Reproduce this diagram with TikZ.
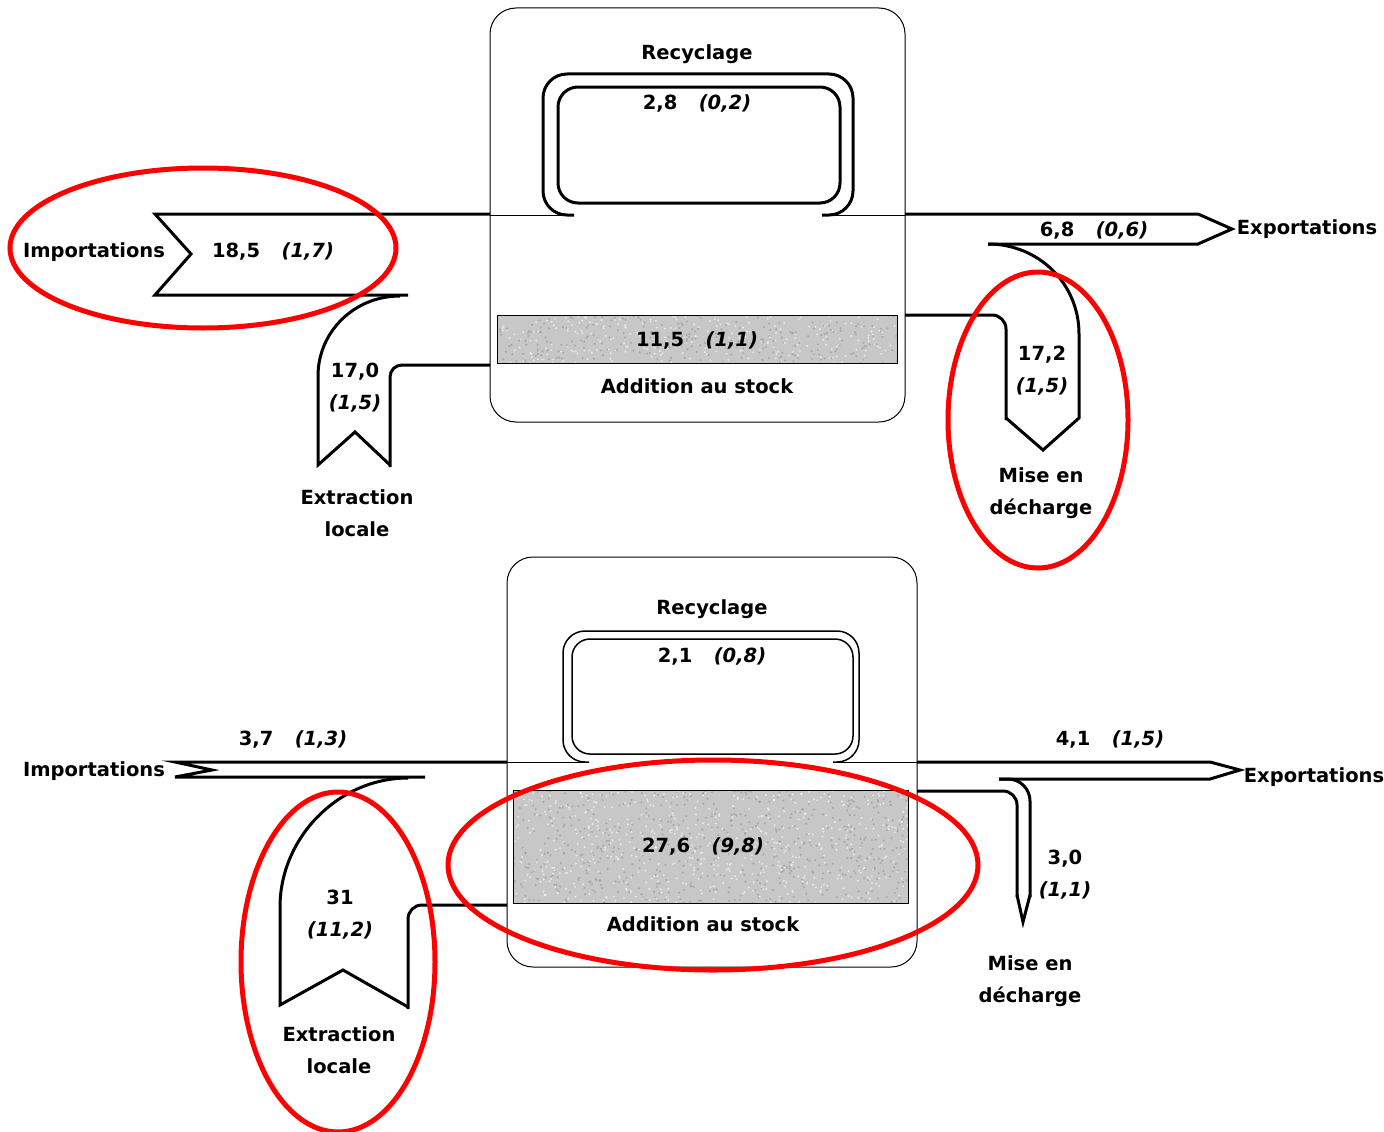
\documentclass[tikz,border=0pt]{standalone}
\usepackage{fontspec}
\setmainfont{DejaVu Sans}
\usepackage{tikz}
\usetikzlibrary{arrows.meta, positioning, calc}
\newcommand{\flowval}[2]{#1\hspace{1.1em}\textit{(#2)}}

\begin{document}
\begin{tikzpicture}[x=1pt, y=-1pt,
    unitbox/.style={line width=1pt, rounded corners=26pt},
    flowline/.style={line width=3pt, line join=miter},
    recyc/.style={line width=3pt, rounded corners=24pt},
    recycthin/.style={line width=1.5pt, rounded corners=22pt},
    speck/.style={fill=black!45, opacity=0.5},
    glint/.style={fill=white, opacity=0.6},
    txt/.style={font=\bfseries\fontsize{19.5}{32}\selectfont, align=center, inner sep=0pt},
    hl/.style={draw=red, line width=5pt}
  ]
  \useasboundingbox (0,0) rectangle (1384,1132);
  \pgfmathsetseed{7}

  % upper diagram
  \draw[unitbox] (490,8) rectangle (905,422);
  \fill[black!22] (497,315) rectangle (897,363);
  \begin{scope}
    \clip (497,315) rectangle (897,363);
    \foreach \k in {1,...,260} {
      \fill[speck] ({697+200*rand},{339+24*rand}) circle (1.2);
      \fill[glint] ({697+200*rand},{339+24*rand}) circle (1.1);
    }
  \end{scope}
  \draw[line width=1pt] (497,315) rectangle (897,363);
  \draw[line width=1pt] (490,215) -- (572,215) (824,215) -- (905,215);
  \draw[recyc] (574,215) -- (543,215) -- (543,74) -- (853,74) -- (853,215) -- (822,215);
  \draw[recyc, rounded corners=20pt] (558,87) rectangle (840,203);

  \draw[flowline] (490,214) -- (155,214) -- (191,254) -- (155,295) -- (408,295);
  \draw[flowline] (400,296) .. controls (354,296) and (318,332) .. (318,376) -- (318,465) -- (355,432) -- (390,465);
  \draw[flowline, rounded corners=12pt] (390,467) -- (390,365) -- (490,365);
  \draw[flowline] (905,214) -- (1198,214) -- (1232,229) -- (1198,244) -- (988,244);
  \draw[flowline] (988,244) .. controls (1038,244) and (1079,283) .. (1079,334) -- (1079,418) -- (1043,450) -- (1006,418);
  \draw[flowline, rounded corners=14pt] (1006,420) -- (1006,315) -- (905,315);

  \node[txt] (recycA) at (697,54) {Recyclage};
  \node[txt] (recycAval) at (697,103) {\flowval{2,8}{0,2}};
  \node[txt] (stockAval) at (697,340) {\flowval{11,5}{1,1}};
  \node[txt] (stockA) at (697,386) {Addition au stock};
  \node[txt] (importA) at (94,252) {Importations};
  \node[txt] (importAval) at (273,251) {\flowval{18,5}{1,7}};
  \node[txt] (extractAval) at (355,388) {17,0\\\textit{(1,5)}};
  \node[txt] (extractA) at (357,513) {Extraction\\locale};
  \node[txt] (exportA) at (1307,229) {Exportations};
  \node[txt] (exportAval) at (1094,230) {\flowval{6,8}{0,6}};
  \node[txt] (landfillAval) at (1042,371) {17,2\\\textit{(1,5)}};
  \node[txt] (landfillA) at (1041,493) {Mise en\\décharge};

  % lower diagram
  \draw[unitbox] (507,557) rectangle (917,967);
  \fill[black!22] (513,790) rectangle (908,903);
  \begin{scope}
    \clip (513,790) rectangle (908,903);
    \foreach \k in {1,...,600} {
      \fill[speck] ({710+198*rand},{846+57*rand}) circle (1.2);
      \fill[glint] ({710+198*rand},{846+57*rand}) circle (1.1);
    }
  \end{scope}
  \draw[line width=1pt] (513,790) rectangle (908,903);
  \draw[line width=1pt] (507,762) -- (587,762) (835,762) -- (917,762);
  \draw[recycthin] (589,762) -- (563,762) -- (563,631) -- (859,631) -- (859,762) -- (833,762);
  \draw[recycthin, rounded corners=18pt] (572,639) rectangle (853,754);

  \draw[flowline] (507,762) -- (175,762) -- (212,770) -- (175,777) -- (425,777);
  \draw[flowline] (408,778) .. controls (338,778) and (280,838) .. (280,907) -- (280,1005) -- (343,970) -- (408,1007);
  \draw[flowline, rounded corners=14pt] (408,1009) -- (408,905) -- (507,905);
  \draw[flowline] (917,762) -- (1210,762) -- (1240,770) -- (1210,779) -- (999,779);
  \draw[flowline, rounded corners=22pt] (999,779) -- (1030,779) -- (1030,897);
  \draw[flowline] (1030,895) -- (1023,922) -- (1017,895);
  \draw[flowline, rounded corners=14pt] (1017,897) -- (1017,791) -- (917,791);

  \node[txt] (recycB) at (712,609) {Recyclage};
  \node[txt] (recycBval) at (712,656) {\flowval{2,1}{0,8}};
  \node[txt] (stockBval) at (703,846) {\flowval{27,6}{9,8}};
  \node[txt] (stockB) at (703,924) {Addition au stock};
  \node[txt] (importB) at (94,771) {Importations};
  \node[txt] (importBval) at (293,739) {\flowval{3,7}{1,3}};
  \node[txt] (extractBval) at (340,915) {31\\\textit{(11,2)}};
  \node[txt] (extractB) at (339,1050) {Extraction\\locale};
  \node[txt] (exportB) at (1314,777) {Exportations};
  \node[txt] (exportBval) at (1110,739) {\flowval{4,1}{1,5}};
  \node[txt] (landfillBval) at (1065,875) {3,0\\\textit{(1,1)}};
  \node[txt] (landfillB) at (1030,981) {Mise en\\décharge};

  \draw[hl] (203,248) ellipse [x radius=193, y radius=80];
  \draw[hl] (1038,420) ellipse [x radius=90, y radius=148];
  \draw[hl] (338,962) ellipse [x radius=97, y radius=170];
  \draw[hl] (713,865) ellipse [x radius=265, y radius=105];
\end{tikzpicture}
\end{document}
